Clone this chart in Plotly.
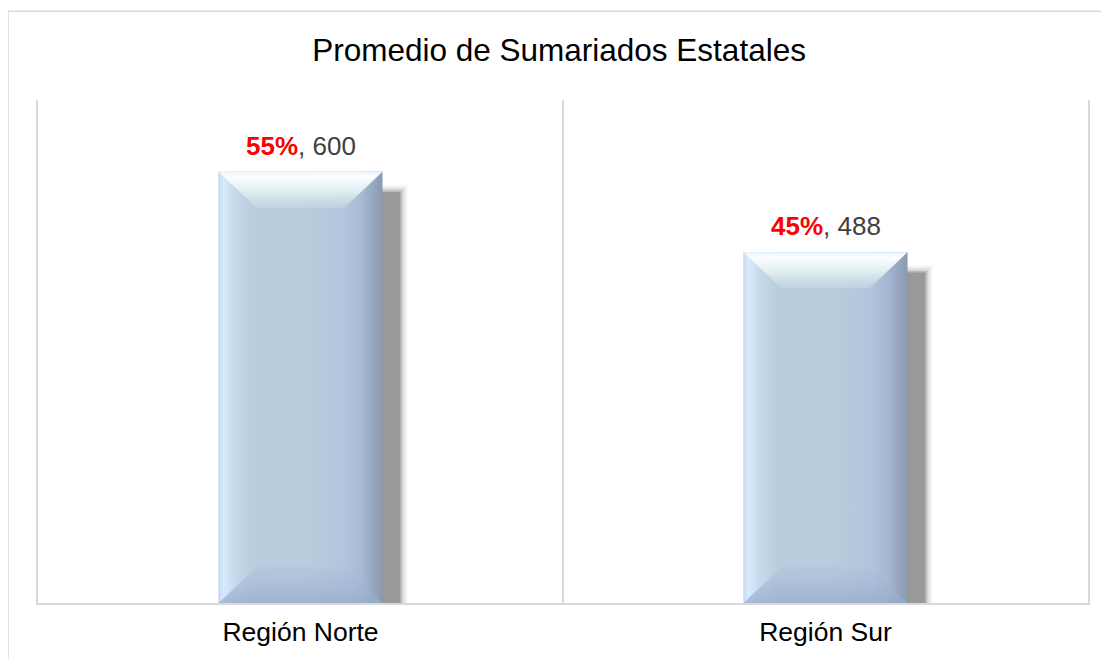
import plotly.graph_objects as go

# ---- data ----
categories = ["Región Norte", "Región Sur"]
values = [600, 488]
title_text = "Promedio de Sumariados Estatales"

total = sum(values)
percents = [round(v * 100 / total) for v in values]

x_pos = list(range(len(categories)))

# ---- style constants ----
W = 0.156      # half bar width (category units)
DX = 0.072     # bevel horizontal depth
DY = 50        # bevel vertical depth (value units)
SH_X = 0.034   # shadow offset right
SH_Y = 28      # shadow offset down
FONT = "Liberation Sans, Arial, sans-serif"

fig = go.Figure()

# shadow (soft, layered)
for grow, op in [(0.014, 0.08), (0.010, 0.14), (0.006, 0.22), (0.003, 0.35), (0.0, 0.7)]:
    for c, v in zip(x_pos, values):
        L = c - W + SH_X - grow
        R = c + W + SH_X + grow
        T = v - SH_Y + grow * 700
        fig.add_trace(go.Scatter(
            x=[L, R, R, L, L], y=[0, 0, T, T, 0], mode="lines",
            fill="toself", fillcolor=f"rgba(140,140,140,{op})",
            line=dict(width=0), hoverinfo="skip", showlegend=False))

# main bar body
fig.add_trace(go.Bar(
    x=x_pos, y=values, width=2 * W,
    marker=dict(color="#b8ccdd", line=dict(width=0)),
    hoverinfo="skip", showlegend=False))

for c, v in zip(x_pos, values):
    L, R, T = c - W, c + W, v
    # body horizontal gradient
    fig.add_trace(go.Scatter(
        x=[L, R, R, L, L], y=[0, 0, T, T, 0],
        mode="lines", fill="toself", line=dict(width=0),
        fillgradient=dict(type="horizontal",
                          colorscale=[[0, "#c6daf0"], [0.03, "#d8eafd"], [0.09, "#c8dbec"],
                                      [0.2, "#bacddd"], [0.55, "#b8ccdd"], [0.78, "#b2c5dc"],
                                      [0.88, "#a6b8d2"], [0.95, "#94a5bd"], [1, "#8a9ab2"]]),
        hoverinfo="skip", showlegend=False))
    # top bevel
    fig.add_trace(go.Scatter(
        x=[L, R, R - DX, L + DX, L], y=[T, T, T - DY, T - DY, T],
        mode="lines", fill="toself", line=dict(width=0),
        fillgradient=dict(type="vertical",
                          colorscale=[[0, "rgba(200,220,226,0.5)"], [0.45, "rgba(226,240,242,0.95)"],
                                      [0.85, "rgba(250,253,255,1)"], [1, "rgba(238,246,252,1)"]]),
        hoverinfo="skip", showlegend=False))
    # bottom bevel
    fig.add_trace(go.Scatter(
        x=[L, R, R - DX, L + DX, L], y=[0, 0, DY, DY, 0],
        mode="lines", fill="toself", line=dict(width=0),
        fillgradient=dict(type="vertical",
                          colorscale=[[0, "rgba(150,170,205,0.75)"], [1, "rgba(170,190,218,0.35)"]]),
        hoverinfo="skip", showlegend=False))

# data labels
for c, v, p in zip(x_pos, values, percents):
    fig.add_annotation(
        x=c, y=v, yref="y", xref="x", yshift=26, showarrow=False,
        text=f"<span style='color:#ff0000'><b>{p}%</b></span>, {v}",
        font=dict(family=FONT, size=26, color="#404040"),
        yanchor="middle")

# outer chart border
fig.add_shape(type="rect", xref="paper", yref="paper",
              x0=-0.0286, x1=1.1, y0=-0.2, y1=1.1762,
              line=dict(color="#d9d9d9", width=1.5), fillcolor="rgba(0,0,0,0)", layer="below")

fig.update_layout(
    width=1101, height=651,
    margin=dict(l=30, r=21, t=92, b=54),
    paper_bgcolor="white", plot_bgcolor="white",
    title=dict(text=title_text, x=0.5005, xanchor="center", y=0.9355, yanchor="middle",
               font=dict(family=FONT, size=31.5, color="#000000")),
    xaxis=dict(range=[-0.5, 1.5], tickvals=x_pos, ticktext=categories,
               showgrid=False, zeroline=False, showline=True, linecolor="#d9d9d9", linewidth=1.5,
               ticks="", ticklabelstandoff=4,
               tickfont=dict(family=FONT, size=26.5, color="#000000"),
               minor=dict(tickmode="array", tickvals=[-0.5, 0.5, 1.5], showgrid=True,
                          gridcolor="#d9d9d9", gridwidth=1.5, ticks=""),
               fixedrange=True),
    yaxis=dict(range=[0, 700], showgrid=False, zeroline=False, showticklabels=False,
               showline=True, mirror=True, linecolor="#d9d9d9", linewidth=1.5,
               ticks="", fixedrange=True),
    barmode="overlay",
    showlegend=False,
)

fig.write_html("out.html")
